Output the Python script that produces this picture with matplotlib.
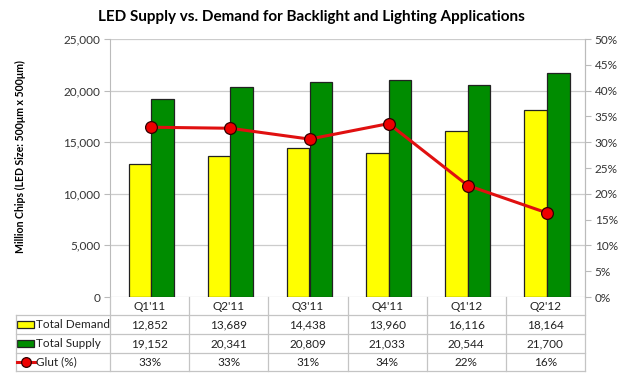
import matplotlib
matplotlib.use("Agg")
import matplotlib.pyplot as plt
import numpy as np
from matplotlib.lines import Line2D
from matplotlib.patches import Rectangle

plt.rcParams['font.family'] = ['Lato', 'DejaVu Sans']

categories = ["Q1'11", "Q2'11", "Q3'11", "Q4'11", "Q1'12", "Q2'12"]
demand = [12852, 13689, 14438, 13960, 16116, 18164]
supply = [19152, 20341, 20809, 21033, 20544, 21700]
glut = [32.9, 32.7, 30.6, 33.6, 21.6, 16.3]
left_ticks = [0, 5000, 10000, 15000, 20000, 25000]
right_ticks = [0, 5, 10, 15, 20, 25, 30, 35, 40, 45, 50]

W, H = 623, 375
fig = plt.figure(figsize=(W / 100, H / 100), dpi=100)

# axes geometry in pixels
L, R, T, B = 110, 585, 39, 297
ax = fig.add_axes([L / W, 1 - B / H, (R - L) / W, (B - T) / H])
ax2 = ax.twinx()

x = np.arange(len(categories))
bw = 0.285
yellow = '#FFFF00'
green = '#008C00'
ax.bar(x - bw / 2 + 0.02, demand, bw, color=yellow, edgecolor='#222222', linewidth=0.9, zorder=3)
ax.bar(x + bw / 2 + 0.02, supply, bw, color=green, edgecolor='#222222', linewidth=0.9, zorder=3)
ax.set_xlim(-0.5, len(categories) - 0.5)
ax.set_ylim(0, 25000)
ax.set_yticks(left_ticks)
ax.set_yticklabels([f"{v:,}" for v in left_ticks], fontsize=8.5, color='#333333')
ax.yaxis.grid(True, color='#CCCCCC', linewidth=0.9, zorder=0)
ax.set_axisbelow(True)
ax.set_xticks([])
for s in ['top', 'bottom']:
    ax.spines[s].set_visible(False)
ax.spines['left'].set_color('#BBBBBB')
ax.spines['right'].set_color('#BBBBBB')
ax.tick_params(axis='y', length=4, color='#BBBBBB', pad=3)
ax.set_ylabel("Million Chips (LED Size: 500μm x 500μm)", fontsize=7.6, fontweight='bold')
ax.yaxis.set_label_coords((26 - L) / (R - L), (B - 157) / (B - T))

ax2.plot(x + 0.02, glut, color='#E01010', linewidth=2.2, marker='o', markersize=8.5,
         markerfacecolor='#EE0000', markeredgecolor='#300000', markeredgewidth=0.9, zorder=5)
ax2.set_ylim(0, 50)
ax2.set_yticks(right_ticks)
ax2.set_yticklabels([f"{v}%" for v in right_ticks], fontsize=8.5, color='#333333')
ax2.tick_params(axis='y', length=4, color='#BBBBBB', pad=3)
for s in ['top', 'bottom', 'left']:
    ax2.spines[s].set_visible(False)
ax2.spines['right'].set_color('#BBBBBB')
ax.set_zorder(1)
ax2.set_zorder(2)
ax2.patch.set_visible(False)

fig.text(0.5, 1 - 17 / H, "LED Supply vs. Demand for Backlight and Lighting Applications",
         ha='center', va='center', fontsize=11, fontweight='bold')

# data table (pixel coords, y from top)
def fx(px):
    return px / W

def fy(py):
    return 1 - py / H

gc = '#C4C4C4'
TL = 15.5
rows_y = [297, 315, 334, 353, 371]
colw = (R - L) / len(categories)
bounds = [L + i * colw for i in range(len(categories) + 1)]

# horizontal lines
for yy in rows_y[1:]:
    fig.add_artist(Line2D([fx(TL), fx(R)], [fy(yy), fy(yy)], color=gc, linewidth=0.9))
# vertical lines
fig.add_artist(Line2D([fx(TL), fx(TL)], [fy(rows_y[1]), fy(rows_y[-1])], color=gc, linewidth=0.9))
for bx in bounds:
    fig.add_artist(Line2D([fx(bx), fx(bx)], [fy(rows_y[0]), fy(rows_y[-1])], color=gc, linewidth=0.9))

fs = 8.5
tc = '#222222'
for i, c in enumerate(categories):
    cx = (bounds[i] + bounds[i + 1]) / 2
    fig.text(fx(cx), fy((rows_y[0] + rows_y[1]) / 2), c, ha='center', va='center', fontsize=fs, color=tc)
    fig.text(fx(cx), fy((rows_y[1] + rows_y[2]) / 2), f"{demand[i]:,}", ha='center', va='center', fontsize=fs, color=tc)
    fig.text(fx(cx), fy((rows_y[2] + rows_y[3]) / 2), f"{supply[i]:,}", ha='center', va='center', fontsize=fs, color=tc)
    fig.text(fx(cx), fy((rows_y[3] + rows_y[4]) / 2), f"{glut[i]:.0f}%", ha='center', va='center', fontsize=fs, color=tc)

row_names = ["Total Demand", "Total Supply", "Glut (%)"]
for j, name in enumerate(row_names):
    yc = (rows_y[j + 1] + rows_y[j + 2]) / 2
    fig.text(fx(36), fy(yc), name, ha='left', va='center', fontsize=fs, color=tc)

# legend keys
for j, col in enumerate([yellow, green]):
    yc = (rows_y[j + 1] + rows_y[j + 2]) / 2
    fig.add_artist(Rectangle((fx(17), fy(yc + 3.5)), fx(17), 7 / H, facecolor=col,
                             edgecolor='#222222', linewidth=0.9))
yc = (rows_y[3] + rows_y[4]) / 2
fig.add_artist(Line2D([fx(17), fx(35)], [fy(yc), fy(yc)], color='#E01010', linewidth=2.2))
fig.add_artist(Line2D([fx(26)], [fy(yc)], marker='o', markersize=7, color='#E01010',
                      markerfacecolor='#EE0000', markeredgecolor='#300000', markeredgewidth=0.9))

fig.savefig('out.png', dpi=100)
